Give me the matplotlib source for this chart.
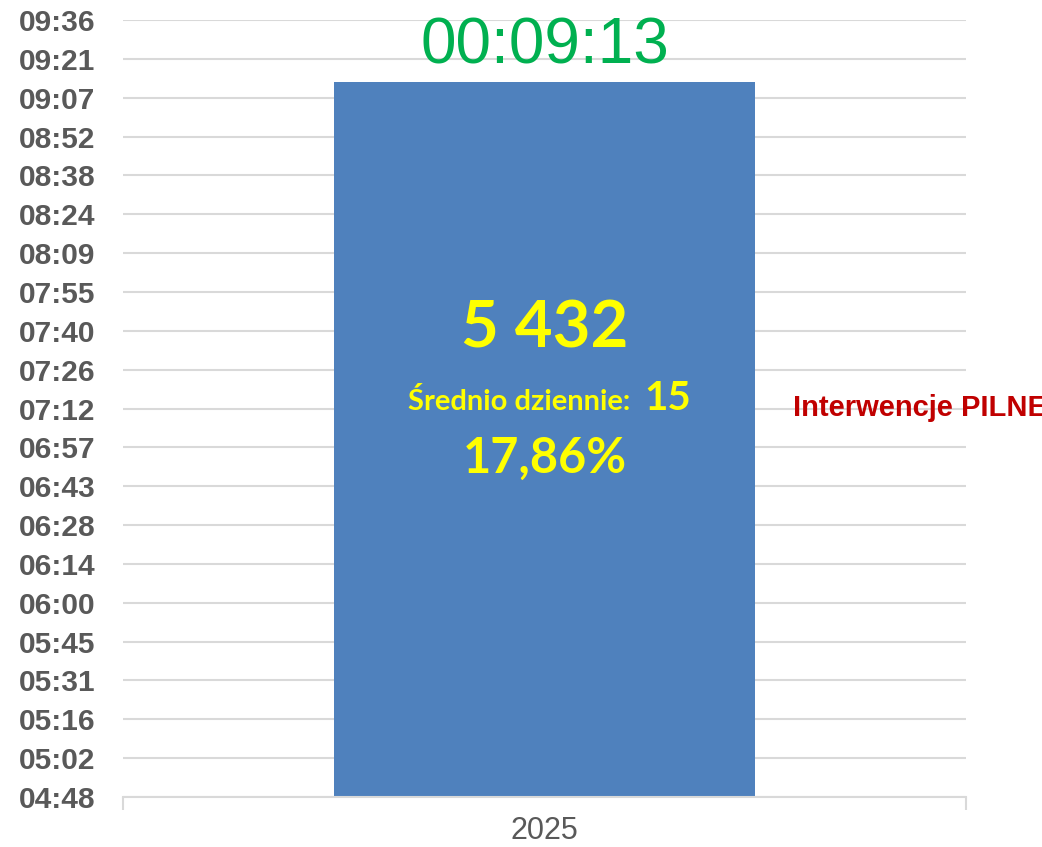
import numpy as np
import matplotlib
matplotlib.use("Agg")
import matplotlib.pyplot as plt
from matplotlib.ticker import FixedLocator, FuncFormatter

# dane
kategorie = ['2025']
czas_min = [553]            # 09:13 w minutach
etykieta_czasu = ['00:09:13']
liczba = '5 432'
srednio = '15'
procent = '17,86%'
seria = 'Interwencje PILNE'

y_min, y_max, krok = 288, 576, 14.4   # 04:48 .. 09:36

plt.rcParams['font.family'] = ['Liberation Sans', 'DejaVu Sans']

fig = plt.figure(figsize=(10.42, 8.47), dpi=100)
ax = fig.add_axes([123 / 1042, 1 - 797 / 847, (966 - 123) / 1042, (797 - 20) / 847])

x = np.arange(len(kategorie))
bars = ax.bar(x, czas_min, width=0.5, color='#4F81BD', zorder=2)

ax.set_xlim(-0.5, 0.5)
ax.set_ylim(y_min, y_max)

ticks = np.arange(y_min, y_max + 0.01, krok)
ax.yaxis.set_major_locator(FixedLocator(ticks))


def fmt(m, pos):
    m = int(np.floor(m + 1e-6))
    return f'{m // 60:02d}:{m % 60:02d}'


ax.yaxis.set_major_formatter(FuncFormatter(fmt))
ax.grid(axis='y', color='#D9D9D9', linewidth=1.5, zorder=0)
ax.tick_params(axis='y', length=0, pad=20, labelsize=21.5, labelcolor='#595959')
for t in ax.get_yticklabels():
    t.set_fontweight('bold')

ax.set_xticks(x)
ax.set_xticklabels(kategorie, fontsize=22, color='#595959')
ax.tick_params(axis='x', which='major', length=0, pad=14)
ax.set_xticks([-0.5, 0.5], minor=True)
ax.tick_params(axis='x', which='minor', length=9, color='#D9D9D9', width=1.5)

for s in ['left', 'right', 'top']:
    ax.spines[s].set_visible(False)
ax.spines['bottom'].set_color('#D9D9D9')
ax.spines['bottom'].set_linewidth(1.5)

# etykieta nad słupkiem
for b, lab in zip(bars, etykieta_czasu):
    ax.annotate(lab, (b.get_x() + b.get_width() / 2, b.get_height()),
                xytext=(0, 4), textcoords='offset points', ha='center', va='bottom',
                fontsize=46, color='#00B050', annotation_clip=False)

# napisy w słupku
f_in = ['Lato', 'DejaVu Sans']
ax.text(0.5, 0.578, liczba, transform=ax.transAxes, ha='center', va='baseline',
        fontsize=47, fontweight='bold', color='#FFFF00', family=f_in)
ax.text(0.6015, 0.498, 'Średnio dziennie:', transform=ax.transAxes, ha='right', va='baseline',
        fontsize=21, fontweight='bold', color='#FFFF00', family=f_in)
ax.text(0.618, 0.498, srednio, transform=ax.transAxes, ha='left', va='baseline',
        fontsize=29, fontweight='bold', color='#FFFF00', family=f_in)
ax.text(0.5, 0.417, procent, transform=ax.transAxes, ha='center', va='baseline',
        fontsize=35, fontweight='bold', color='#FFFF00', family=f_in)

# legenda (ucięta na prawej krawędzi, jak w oryginale)
fig.text(793 / 1042, 1 - 408 / 847, seria, ha='left', va='center',
         fontsize=21, fontweight='bold', color='#C00000')

fig.savefig('out.png', dpi=100)
